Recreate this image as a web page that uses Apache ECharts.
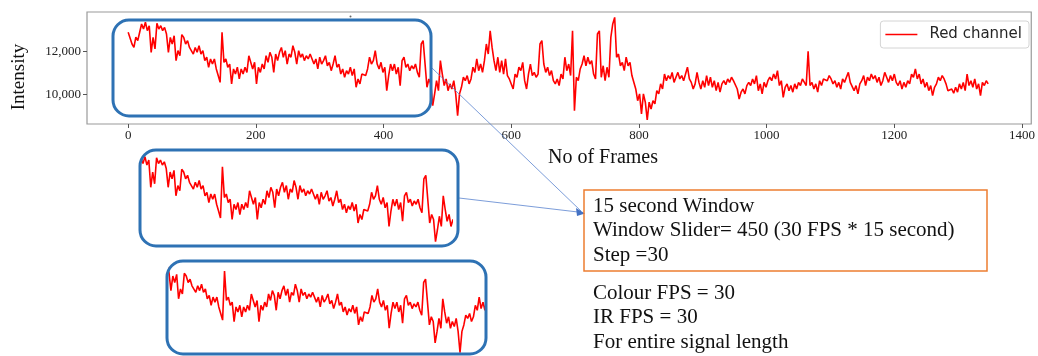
<!DOCTYPE html>
<html>
<head>
<meta charset="utf-8">
<script src="https://cdn.jsdelivr.net/npm/echarts@6/dist/echarts.min.js"></script>
<style>
  html, body { margin: 0; padding: 0; background: #fff; }
  #chart { width: 1038px; height: 356px; }
</style>
</head>
<body>
<div id="chart"></div>
<script>
// one reading every 3 frames, frame 0 .. 1347
const frameStep = 3;
const redChannel = [
  12910,12830,12360,12200,12680,12520,12910,13300,13060,13380,12990,13220,
  11970,12670,12130,13330,13060,13220,12990,13140,12830,11970,12670,12360,
  12750,11580,12050,11810,12800,12670,12360,12520,12200,12280,11890,12200,
  11970,12280,11890,12050,11580,11740,11270,11660,11420,11660,11190,10880,
  10560,12910,11500,11660,11270,11420,10490,11190,10950,11270,10720,11190,
  10950,11270,11030,11810,11740,11190,11500,10490,11270,11030,11420,11190,
  11810,11500,11970,11740,11030,11890,11580,11970,12200,11740,12050,11420,
  11890,11740,12280,11970,11420,12050,11740,11890,11580,11810,11660,11890,
  11810,11420,11660,11190,11740,11420,11580,11810,11340,11500,11110,11420,
  11810,11270,11420,10950,11190,10800,11110,10950,11270,10880,11190,10330,
  10720,10490,10950,11030,10880,11190,11740,11420,11580,12050,11420,11190,
  11500,11030,11270,10170,10880,11420,11110,11420,10950,11270,10410,11580,
  11740,11270,11420,11110,11340,11190,11420,11030,10800,12360,12520,12440,
  10330,10720,10490,9470,10020,10640,10170,11580,10950,10410,10720,10170,
  10490,10250,10640,10020,9000,10020,10330,10800,10640,10880,10490,10720,
  11270,11030,11660,11110,11420,11030,11580,12360,11890,12980,12200,11580,
  11110,11740,11030,11580,10950,11660,10880,10720,10640,10250,10950,10800,
  11270,11110,11500,10640,10250,10950,11420,10880,11030,10800,10950,12360,
  12520,11420,11030,11270,10880,11110,10640,10490,10720,10410,10950,10720,
  11740,11110,11420,10880,12980,9230,10800,10640,11190,11420,11810,11340,
  11740,11420,11580,10950,10720,12830,12980,10800,11340,10640,11270,10800,
  12670,13300,13610,11740,11890,11340,11500,11110,11740,11340,11500,10880,
  10950,10250,9700,10020,9080,10020,9630,8800,9630,9310,9700,9550,
  10170,10020,10490,10250,10950,10640,10880,10720,11030,10560,10800,11030,
  10720,10880,10640,10950,11270,10720,10560,10250,10490,11030,10560,10250,
  10640,10330,10880,10410,10800,10330,10640,10170,10560,10100,10490,10640,
  10450,10720,10560,10800,10640,10560,10250,9780,10100,10250,10020,10410,
  10560,10410,10720,10490,10880,10170,10490,10020,10560,10330,10640,10800,
  10640,10950,10720,11110,10410,10640,9860,10330,10490,10170,10410,10100,
  10490,10250,10560,10410,10720,10640,10410,12020,10410,10560,10250,10490,
  10100,10640,10410,10720,10800,10640,10880,10720,10490,10640,10330,10560,
  10250,10720,10560,10800,11030,10560,10640,10170,10410,10020,10490,10640,
  10880,10410,10800,10640,10950,10720,10880,10560,10800,10410,10640,11030,
  10800,10560,10880,10640,10950,10560,10410,10640,10250,10560,10330,10640,
  10490,10950,10800,11190,10720,10950,10490,10720,10330,10560,10170,10410,
  9940,10330,10490,10800,10640,10880,10720,10490,10170,10100,10250,10050,
  10330,10100,10490,10250,10560,10170,10950,10410,10640,10330,10720,10250,
  10490,9940,10560,10410,10640,10490
];
const xTicks = [0, 200, 400, 600, 800, 1000, 1200, 1400];
const yTicks = [10000, 12000];
// frame ranges shown in the two zoomed windows
const window1 = [24, 501];
const window2 = [60, 552];

const boxLines = [
  "15 second Window",
  "Window Slider= 450 (30 FPS * 15 second)",
  "Step =30"
];
const noteLines = [
  "Colour FPS = 30",
  "IR FPS = 30",
  "For entire signal length"
];

const points = redChannel.map((v, i) => [i * frameStep, v]);

const serif = "Liberation Serif";
const blue = "#2e72b4";
const red = "#ff0000";

const chart = echarts.init(document.getElementById("chart"), null, { renderer: "canvas" });

const hiddenAxis = { show: false, type: "value" };

const texts = [];
boxLines.forEach((t, i) => {
  texts.push({
    type: "text", x: 593, y: 206 + i * 24.5, z: 20,
    style: { text: t, font: "21px " + serif, fill: "#111", textVerticalAlign: "middle" }
  });
});
noteLines.forEach((t, i) => {
  texts.push({
    type: "text", x: 593, y: 293 + i * 24.5, z: 20,
    style: { text: t, font: "21px " + serif, fill: "#111", textVerticalAlign: "middle" }
  });
});

const lineSeries = (name, idx) => ({
  name: name, type: "line", xAxisIndex: idx, yAxisIndex: idx,
  data: points, showSymbol: false, symbol: "none",
  itemStyle: { color: red }, lineStyle: { color: red, width: 1.6 }
});

const option = {
  backgroundColor: "#fff",
  animation: false,
  grid: [
    { left: 87, top: 12, width: 949, height: 112, show: true, borderColor: "#9a9a9a", borderWidth: 1.2 },
    { left: 143, top: 150, width: 308, height: 96 },
    { left: 169, top: 261, width: 314, height: 95 }
  ],
  xAxis: [
    {
      gridIndex: 0, type: "value", min: -64.5, max: 1414.5,
      axisLine: { show: false, onZero: false },
      splitLine: { show: false },
      axisTick: { show: true, length: 4, customValues: xTicks, lineStyle: { color: "#555" } },
      axisLabel: {
        customValues: xTicks, margin: 5,
        fontFamily: serif, fontSize: 13, color: "#222",
        formatter: (v) => String(v)
      }
    },
    Object.assign({ gridIndex: 1, min: window1[0], max: window1[1] }, hiddenAxis),
    Object.assign({ gridIndex: 2, min: window2[0], max: window2[1] }, hiddenAxis)
  ],
  yAxis: [
    {
      gridIndex: 0, type: "value", min: 8607, max: 13862,
      axisLine: { show: false, onZero: false },
      splitLine: { show: false },
      axisTick: { show: true, length: 4, customValues: yTicks, lineStyle: { color: "#555" } },
      axisLabel: {
        customValues: yTicks, margin: 6,
        fontFamily: serif, fontSize: 13, color: "#222",
        formatter: (v) => v.toLocaleString("en-US")
      }
    },
    Object.assign({ gridIndex: 1, min: 9273, max: 13683 }, hiddenAxis),
    Object.assign({ gridIndex: 2, min: 8842, max: 13389 }, hiddenAxis)
  ],
  legend: {
    data: ["Red channel"],
    right: 9, top: 21,
    icon: "rect", itemWidth: 32, itemHeight: 1.6,
    padding: [5, 7, 5, 5],
    backgroundColor: "rgba(255,255,255,0.8)",
    borderColor: "#d4d4d4", borderWidth: 1, borderRadius: 3,
    textStyle: { fontFamily: "DejaVu Sans", fontSize: 15, color: "#262626", padding: [0, 0, 0, 7], lineHeight: 17 }
  },
  series: [
    lineSeries("Red channel", 0),
    lineSeries("window 1", 1),
    lineSeries("window 2", 2)
  ],
  graphic: [
    // window boxes
    { type: "rect", z: 10, shape: { x: 113, y: 20, width: 318, height: 96, r: 16 },
      style: { fill: "none", stroke: blue, lineWidth: 3 } },
    { type: "rect", z: 10, shape: { x: 140, y: 150, width: 318, height: 96, r: 16 },
      style: { fill: "none", stroke: blue, lineWidth: 3 } },
    { type: "rect", z: 10, shape: { x: 167, y: 261, width: 319, height: 93, r: 16 },
      style: { fill: "none", stroke: blue, lineWidth: 3 } },
    // connector arrows
    { type: "line", z: 9, shape: { x1: 432, y1: 68, x2: 581, y2: 211 },
      style: { stroke: "#5b84cf", lineWidth: 0.8 } },
    { type: "line", z: 9, shape: { x1: 459, y1: 198, x2: 578, y2: 212 },
      style: { stroke: "#5b84cf", lineWidth: 0.8 } },
    { type: "polygon", z: 9, shape: { points: [[585, 213.5], [576, 208], [577, 216]] },
      style: { fill: "#4472c4" } },
    // text box
    { type: "rect", z: 10, shape: { x: 584, y: 190, width: 403, height: 81 },
      style: { fill: "none", stroke: "#ed7d31", lineWidth: 1.5 } },
    // axis names
    { type: "text", x: 19, y: 77, rotation: Math.PI / 2, z: 20,
      style: { text: "Intensity", font: "19px " + serif, fill: "#111", textAlign: "center", textVerticalAlign: "middle" } },
    { type: "text", x: 603, y: 158, z: 20,
      style: { text: "No of Frames", font: "20px " + serif, fill: "#111", textAlign: "center", textVerticalAlign: "middle" } },
    { type: "circle", z: 20, shape: { cx: 350.5, cy: 16.5, r: 1 }, style: { fill: "#666" } }
  ].concat(texts)
};

chart.setOption(option);
</script>
</body>
</html>
